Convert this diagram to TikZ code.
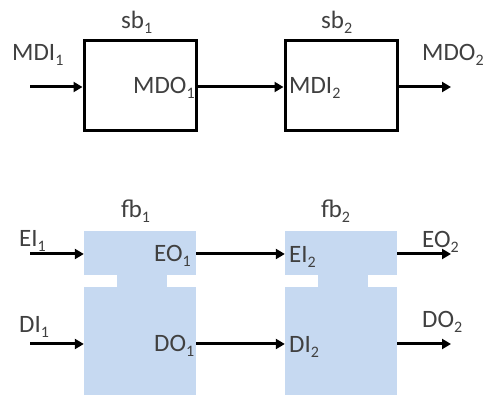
\documentclass[tikz,border=0pt]{standalone}
\usepackage{fontspec}
\setmainfont{Carlito}
\usetikzlibrary{arrows.meta}
\definecolor{fbfill}{RGB}{198,217,241}
\definecolor{txt}{RGB}{64,64,64}
\newcommand\sbx[1]{\raisebox{-5pt}{\fontsize{16}{16}\selectfont #1}}
\begin{document}
\begin{tikzpicture}[x=1pt,y=-1pt,
  lbl/.style={anchor=base west,inner sep=0pt,text=txt,font=\fontsize{25}{30}\selectfont},
  sbox/.style={draw=black,line width=3pt,fill=white,minimum width=112pt,minimum height=90pt,inner sep=0pt},
  fpart/.style={fill=fbfill,draw=none,inner sep=0pt,minimum width=112pt},
  arr/.style={line width=3pt,-{Triangle[length=9pt,width=10pt]}}]
\useasboundingbox (0,0) rectangle (488,395);
% top row
\node[sbox] (sb1) at (140,86) {};
\node[sbox] (sb2) at (341,86) {};
\coordinate (mdi1) at (30,87);
\coordinate (mdo2) at (451,87);
\draw[arr] (mdi1) -- (mdi1 -| sb1.west);
\draw[arr] (mdi1 -| sb1.east) -- (mdi1 -| sb2.west);
\draw[arr] (mdi1 -| sb2.east) -- (mdo2);
\node[lbl] (tsb1) at (121,29) {sb\sbx{1}};
\node[lbl] (tsb2) at (321,29) {sb\sbx{2}};
\node[lbl] (tmdi1) at (12,61) {MDI\sbx{1}};
\node[lbl] (tmdo1) at (133,94) {MDO\sbx{1}};
\node[lbl] (tmdi2) at (289,94) {MDI\sbx{2}};
\node[lbl] (tmdo2) at (422,61) {MDO\sbx{2}};
% bottom row
\node[fpart,minimum height=44pt] (fb1e) at (140,253) {};
\node[fpart,minimum height=108pt] (fb1d) at (140,341) {};
\fill[fbfill] (117,274) rectangle (167,288);
\node[fpart,minimum height=44pt] (fb2e) at (341,253) {};
\node[fpart,minimum height=108pt] (fb2d) at (341,341) {};
\fill[fbfill] (318,274) rectangle (368,288);
\coordinate (ei1) at (30,254);
\coordinate (eo2) at (451,254);
\coordinate (di1) at (30,344);
\coordinate (do2) at (451,344);
\draw[arr] (ei1) -- (ei1 -| fb1e.west);
\draw[arr] (ei1 -| fb1e.east) -- (ei1 -| fb2e.west);
\draw[arr] (ei1 -| fb2e.east) -- (eo2);
\draw[arr] (di1) -- (di1 -| fb1d.west);
\draw[arr] (di1 -| fb1d.east) -- (di1 -| fb2d.west);
\draw[arr] (di1 -| fb2d.east) -- (do2);
\node[lbl] (tfb1) at (121,218) {fb\sbx{1}};
\node[lbl] (tfb2) at (321,218) {fb\sbx{2}};
\node[lbl] (tei1) at (19,247) {EI\sbx{1}};
\node[lbl] (teo1) at (154,262) {EO\sbx{1}};
\node[lbl] (tei2) at (289,263) {EI\sbx{2}};
\node[lbl] (teo2) at (422,248) {EO\sbx{2}};
\node[lbl] (tdi1) at (19,333) {DI\sbx{1}};
\node[lbl] (tdo1) at (154,352) {DO\sbx{1}};
\node[lbl] (tdi2) at (289,353) {DI\sbx{2}};
\node[lbl] (tdo2) at (422,328) {DO\sbx{2}};
\end{tikzpicture}
\end{document}
